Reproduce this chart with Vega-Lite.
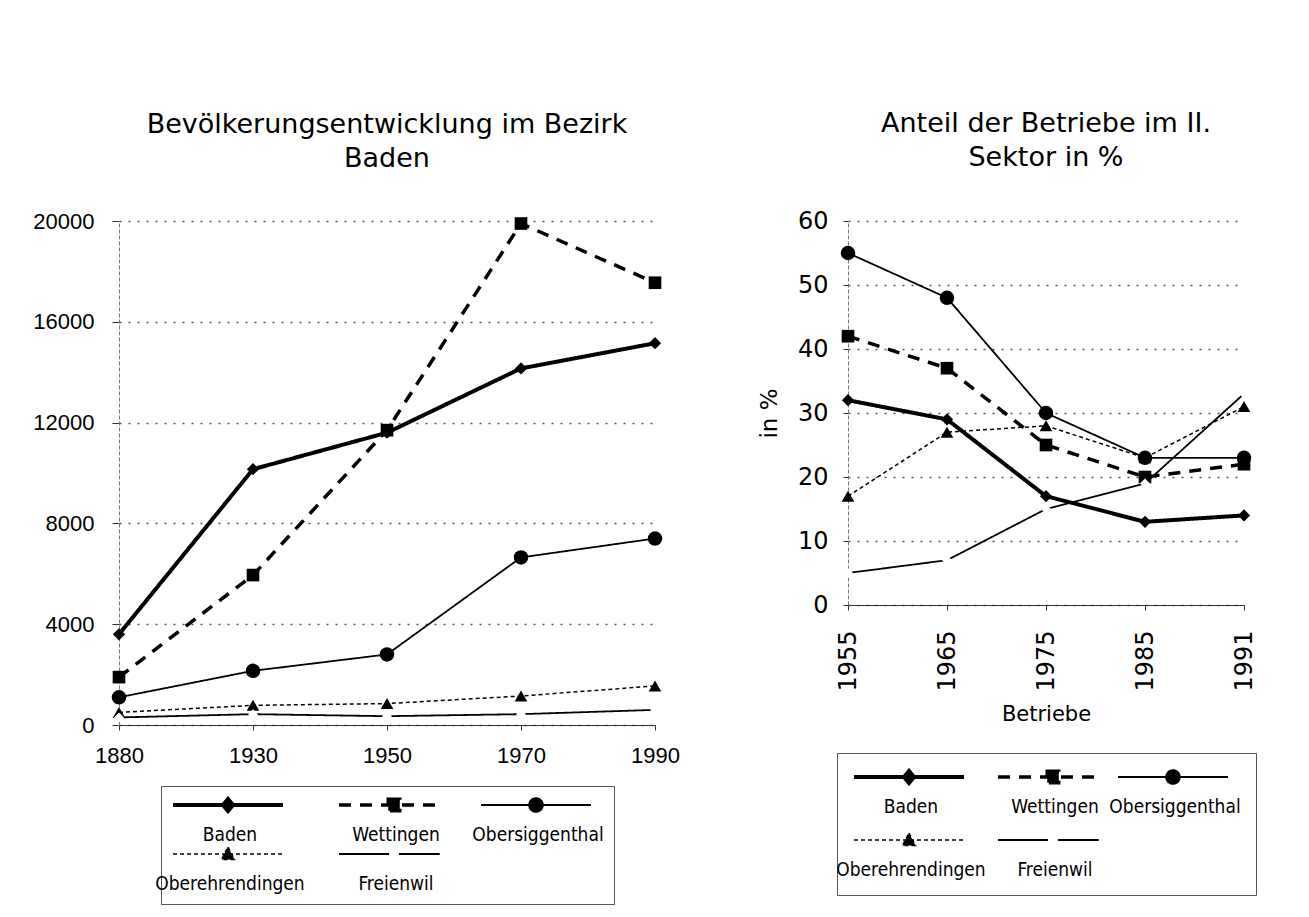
{
  "$schema": "https://vega.github.io/schema/vega-lite/v6.json",
  "padding": {"left": 32, "top": 110, "right": 10, "bottom": 5},
  "spacing": 78,
  "background": "white",
  "datasets": {
    "pop": [
      {"year": "1880", "series": "Baden", "value": 3600},
      {"year": "1930", "series": "Baden", "value": 10150},
      {"year": "1950", "series": "Baden", "value": 11600},
      {"year": "1970", "series": "Baden", "value": 14150},
      {"year": "1990", "series": "Baden", "value": 15150},
      {"year": "1880", "series": "Wettingen", "value": 1900},
      {"year": "1930", "series": "Wettingen", "value": 5950},
      {"year": "1950", "series": "Wettingen", "value": 11700},
      {"year": "1970", "series": "Wettingen", "value": 19900},
      {"year": "1990", "series": "Wettingen", "value": 17550},
      {"year": "1880", "series": "Obersiggenthal", "value": 1100},
      {"year": "1930", "series": "Obersiggenthal", "value": 2150},
      {"year": "1950", "series": "Obersiggenthal", "value": 2800},
      {"year": "1970", "series": "Obersiggenthal", "value": 6650},
      {"year": "1990", "series": "Obersiggenthal", "value": 7400},
      {"year": "1880", "series": "Oberehrendingen", "value": 500},
      {"year": "1930", "series": "Oberehrendingen", "value": 780},
      {"year": "1950", "series": "Oberehrendingen", "value": 850},
      {"year": "1970", "series": "Oberehrendingen", "value": 1150},
      {"year": "1990", "series": "Oberehrendingen", "value": 1550},
      {"year": "1880", "series": "Freienwil", "value": 300},
      {"year": "1930", "series": "Freienwil", "value": 430},
      {"year": "1950", "series": "Freienwil", "value": 350},
      {"year": "1970", "series": "Freienwil", "value": 430},
      {"year": "1990", "series": "Freienwil", "value": 600}
    ],
    "sector": [
      {"year": "1955", "series": "Baden", "value": 32},
      {"year": "1965", "series": "Baden", "value": 29},
      {"year": "1975", "series": "Baden", "value": 17},
      {"year": "1985", "series": "Baden", "value": 13},
      {"year": "1991", "series": "Baden", "value": 14},
      {"year": "1955", "series": "Wettingen", "value": 42},
      {"year": "1965", "series": "Wettingen", "value": 37},
      {"year": "1975", "series": "Wettingen", "value": 25},
      {"year": "1985", "series": "Wettingen", "value": 20},
      {"year": "1991", "series": "Wettingen", "value": 22},
      {"year": "1955", "series": "Obersiggenthal", "value": 55},
      {"year": "1965", "series": "Obersiggenthal", "value": 48},
      {"year": "1975", "series": "Obersiggenthal", "value": 30},
      {"year": "1985", "series": "Obersiggenthal", "value": 23},
      {"year": "1991", "series": "Obersiggenthal", "value": 23},
      {"year": "1955", "series": "Oberehrendingen", "value": 17},
      {"year": "1965", "series": "Oberehrendingen", "value": 27},
      {"year": "1975", "series": "Oberehrendingen", "value": 28},
      {"year": "1985", "series": "Oberehrendingen", "value": 23},
      {"year": "1991", "series": "Oberehrendingen", "value": 31},
      {"year": "1955", "series": "Freienwil", "value": 5},
      {"year": "1965", "series": "Freienwil", "value": 7},
      {"year": "1975", "series": "Freienwil", "value": 15},
      {"year": "1985", "series": "Freienwil", "value": 19},
      {"year": "1991", "series": "Freienwil", "value": 33}
    ]
  },
  "resolve": {
    "scale": {"x": "independent", "y": "independent", "strokeDash": "independent", "strokeWidth": "independent", "shape": "independent", "fill": "independent"},
    "legend": {"strokeDash": "independent"}
  },
  "hconcat": [
    {
      "width": 536,
      "height": 504,
      "data": {"name": "pop"},
      "title": {
        "text": ["Bevölkerungsentwicklung im Bezirk", "Baden"],
        "frame": "group", "anchor": "middle", "offset": 37,
        "font": "DejaVu Sans", "fontSize": 27, "fontWeight": "normal", "lineHeight": 34, "color": "black"
      },
      "encoding": {
        "x": {
          "field": "year", "type": "ordinal",
          "scale": {"type": "point", "padding": 0},
          "axis": {
            "title": null, "labelAngle": 0, "labelFont": "Liberation Sans", "labelFontSize": 22, "labelColor": "black",
            "labelPadding": 15, "tickSize": 5, "tickColor": "#333", "domainColor": "#333", "grid": false
          }
        },
        "y": {
          "field": "value", "type": "quantitative",
          "scale": {"domain": [0, 20000]},
          "axis": {
            "title": null, "values": [0, 4000, 8000, 12000, 16000, 20000], "format": "d",
            "labelFont": "Liberation Sans", "labelFontSize": 22, "labelColor": "black", "labelPadding": 18,
            "tickSize": 7, "tickColor": "#333", "domainColor": "#777", "domainDash": [4, 2],
            "grid": true, "gridDash": [2, 7], "gridColor": "#555", "gridWidth": 1.3
          }
        }
      },
      "layer": [
        {
          "mark": {"type": "line", "color": "black"},
          "encoding": {
            "strokeDash": {
              "field": "series", "type": "nominal",
              "scale": {"domain": ["Baden", "Wettingen", "Obersiggenthal", "Oberehrendingen", "Freienwil"],
                        "range": [[1, 0], [12, 9], [1, 0], [4, 3], [1, 0]]},
              "legend": {
                "title": null, "orient": "bottom", "direction": "horizontal", "columns": 3, "offset": 20,
                "symbolType": "M-1,0H1", "symbolSize": 12100, "clipHeight": 18,
                "labelFont": "DejaVu Sans Condensed, DejaVu Sans", "labelFontSize": 19, "labelColor": "black",
                "labelAlign": "center", "labelBaseline": "top", "labelOffset": -55, "labelLimit": 300,
                "labelExpr": "['', datum.label]",
                "columnPadding": 32, "rowPadding": 0, "padding": 10,
                "strokeColor": "#555"
              }
            },
            "strokeWidth": {
              "field": "series", "type": "nominal",
              "scale": {"type": "ordinal", "domain": ["Baden", "Wettingen", "Obersiggenthal", "Oberehrendingen", "Freienwil"],
                        "range": [4, 3.5, 1.8, 1.5, 1.8]},
              "legend": null
            }
          }
        },
        {
          "transform": [{"filter": "false"}],
          "mark": {"type": "point", "filled": true},
          "encoding": {
            "shape": {
              "field": "series", "type": "nominal",
              "scale": {"domain": ["Baden", "Wettingen", "Obersiggenthal", "Oberehrendingen", "Freienwil"],
                        "range": ["M-1,0H1M0,-0.11L0.09,0L0,0.11L-0.09,0Z", "M-1,0H1M-0.105,-0.105H0.105V0.105H-0.105Z", "M-1,0H1M-0.125,0A0.125,0.125,0,1,1,0.125,0A0.125,0.125,0,1,1,-0.125,0Z", "M-1,0H1M0,-0.127L0.118,0.1L-0.118,0.1Z", "M-1,0H-0.09M0.09,0H1"]},
              "legend": null
            },
            "fill": {
              "field": "series", "type": "nominal",
              "scale": {"domain": ["Baden", "Wettingen", "Obersiggenthal", "Oberehrendingen", "Freienwil"],
                        "range": ["black", "black", "black", "black", "black"]},
              "legend": null
            }
          }
        },
        {"transform": [{"filter": "datum.series === 'Baden'"}], "mark": {"type": "point", "shape": "diamond", "filled": true, "fill": "black", "size": 150, "opacity": 1, "strokeWidth": 0}},
        {"transform": [{"filter": "datum.series === 'Wettingen'"}], "mark": {"type": "point", "shape": "square", "filled": true, "fill": "black", "size": 160, "opacity": 1, "strokeWidth": 0}},
        {"transform": [{"filter": "datum.series === 'Obersiggenthal'"}], "mark": {"type": "point", "shape": "circle", "filled": true, "fill": "black", "size": 210, "opacity": 1, "strokeWidth": 0}},
        {"transform": [{"filter": "datum.series === 'Oberehrendingen'"}], "mark": {"type": "point", "shape": "triangle-up", "filled": true, "fill": "black", "size": 160, "opacity": 1, "strokeWidth": 0}},
        {"transform": [{"filter": "datum.series === 'Freienwil'"}], "mark": {"type": "point", "shape": "diamond", "filled": true, "fill": "white", "size": 100, "opacity": 1, "strokeWidth": 0}}
      ]
    },
    {
      "width": 396,
      "height": 384,
      "data": {"name": "sector"},
      "title": {
        "text": ["Anteil der Betriebe im II.", "Sektor in %"],
        "frame": "group", "anchor": "middle", "offset": 37,
        "font": "DejaVu Sans", "fontSize": 27, "fontWeight": "normal", "lineHeight": 34, "color": "black"
      },
      "encoding": {
        "x": {
          "field": "year", "type": "ordinal",
          "scale": {"type": "point", "padding": 0},
          "axis": {
            "title": "Betriebe", "titleFont": "DejaVu Sans", "titleFontSize": 21, "titleFontWeight": "normal", "titleColor": "black", "titlePadding": 12,
            "labelAngle": 270, "labelFont": "DejaVu Sans", "labelFontSize": 24, "labelColor": "black",
            "labelPadding": 20, "tickSize": 5, "tickColor": "#333", "domainColor": "#333", "grid": false
          }
        },
        "y": {
          "field": "value", "type": "quantitative",
          "scale": {"domain": [0, 60]},
          "axis": {
            "title": "in %", "titleFont": "DejaVu Sans", "titleFontSize": 23, "titleFontWeight": "normal", "titleColor": "black", "titlePadding": 16,
            "values": [0, 10, 20, 30, 40, 50, 60],
            "labelFont": "DejaVu Sans", "labelFontSize": 24, "labelColor": "black", "labelPadding": 15,
            "tickSize": 5, "tickColor": "#333", "domainColor": "#777", "domainDash": [4, 2],
            "grid": true, "gridDash": [2, 7], "gridColor": "#555", "gridWidth": 1.3
          }
        }
      },
      "layer": [
        {
          "mark": {"type": "line", "color": "black"},
          "encoding": {
            "strokeDash": {
              "field": "series", "type": "nominal",
              "scale": {"domain": ["Baden", "Wettingen", "Obersiggenthal", "Oberehrendingen", "Freienwil"],
                        "range": [[1, 0], [12, 9], [1, 0], [4, 3], [1, 0]]},
              "legend": {
                "title": null, "orient": "bottom", "direction": "horizontal", "columns": 3, "offset": 28,
                "symbolType": "M-1,0H1", "symbolSize": 12100, "clipHeight": 18,
                "labelFont": "DejaVu Sans Condensed, DejaVu Sans", "labelFontSize": 19, "labelColor": "black",
                "labelAlign": "center", "labelBaseline": "top", "labelOffset": -55, "labelLimit": 300,
                "labelExpr": "['', datum.label]",
                "columnPadding": 10, "rowPadding": 14, "padding": 15,
                "strokeColor": "#555"
              }
            },
            "strokeWidth": {
              "field": "series", "type": "nominal",
              "scale": {"type": "ordinal", "domain": ["Baden", "Wettingen", "Obersiggenthal", "Oberehrendingen", "Freienwil"],
                        "range": [4, 3.5, 1.8, 1.5, 1.8]},
              "legend": null
            }
          }
        },
        {
          "transform": [{"filter": "false"}],
          "mark": {"type": "point", "filled": true},
          "encoding": {
            "shape": {
              "field": "series", "type": "nominal",
              "scale": {"domain": ["Baden", "Wettingen", "Obersiggenthal", "Oberehrendingen", "Freienwil"],
                        "range": ["M-1,0H1M0,-0.11L0.09,0L0,0.11L-0.09,0Z", "M-1,0H1M-0.105,-0.105H0.105V0.105H-0.105Z", "M-1,0H1M-0.125,0A0.125,0.125,0,1,1,0.125,0A0.125,0.125,0,1,1,-0.125,0Z", "M-1,0H1M0,-0.127L0.118,0.1L-0.118,0.1Z", "M-1,0H-0.09M0.09,0H1"]},
              "legend": null
            },
            "fill": {
              "field": "series", "type": "nominal",
              "scale": {"domain": ["Baden", "Wettingen", "Obersiggenthal", "Oberehrendingen", "Freienwil"],
                        "range": ["black", "black", "black", "black", "black"]},
              "legend": null
            }
          }
        },
        {"transform": [{"filter": "datum.series === 'Baden'"}], "mark": {"type": "point", "shape": "diamond", "filled": true, "fill": "black", "size": 150, "opacity": 1, "strokeWidth": 0}},
        {"transform": [{"filter": "datum.series === 'Wettingen'"}], "mark": {"type": "point", "shape": "square", "filled": true, "fill": "black", "size": 160, "opacity": 1, "strokeWidth": 0}},
        {"transform": [{"filter": "datum.series === 'Obersiggenthal'"}], "mark": {"type": "point", "shape": "circle", "filled": true, "fill": "black", "size": 210, "opacity": 1, "strokeWidth": 0}},
        {"transform": [{"filter": "datum.series === 'Oberehrendingen'"}], "mark": {"type": "point", "shape": "triangle-up", "filled": true, "fill": "black", "size": 160, "opacity": 1, "strokeWidth": 0}},
        {"transform": [{"filter": "datum.series === 'Freienwil'"}], "mark": {"type": "point", "shape": "diamond", "filled": true, "fill": "white", "size": 100, "opacity": 1, "strokeWidth": 0}}
      ]
    }
  ],
  "config": {
    "view": {"stroke": null},
    "legend": {"layout": {"bottom": {"anchor": "middle"}}}
  }
}
